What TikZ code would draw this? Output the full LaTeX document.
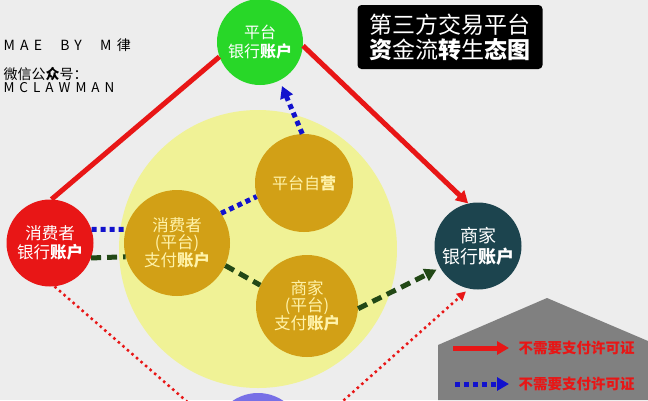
\documentclass[tikz,border=0pt]{standalone}
\usepackage{fontspec}
\setmainfont{Noto Sans CJK SC}
\newfontfamily\spacedfont[LetterSpace=37]{Noto Sans CJK SC}
\usetikzlibrary{arrows.meta}

\def\mypxunit{1pt}
\definecolor{mypaper}{RGB}{237,237,237}
\definecolor{mypool}{RGB}{240,242,150}
\definecolor{mygold}{RGB}{210,160,22}
\definecolor{mygreen}{RGB}{40,215,40}
\definecolor{myred}{RGB}{232,22,22}
\definecolor{myteal}{RGB}{28,68,78}
\definecolor{mypurple}{RGB}{120,112,230}
\definecolor{myblue}{RGB}{18,18,205}
\definecolor{mydarkgreen}{RGB}{34,72,22}
\definecolor{mygrey}{RGB}{128,128,128}
\definecolor{mypaletext}{RGB}{255,243,170}

\tikzset{
  acct/.style={circle, inner sep=0pt, align=center, text=white},
  solidflow/.style={myred, line width=5pt},
  dotflow/.style={myblue, line width=5pt, dash pattern=on 5pt off 4pt},
  dashflow/.style={mydarkgreen, line width=5pt, dash pattern=on 10pt off 6pt},
  thinflow/.style={myred, line width=2.5pt, dash pattern=on 2.5pt off 3.5pt},
  bigtip/.style={-{Triangle[length=12pt,width=13pt]}},
  smalltip/.style={-{Triangle[length=9pt,width=9pt]}}
}

\begin{document}
\begin{tikzpicture}[x=\mypxunit, y=-\mypxunit]
\useasboundingbox (0,0) rectangle (648,400);
\clip (0,0) rectangle (648,400);
\fill[mypaper] (0,0) rectangle (648,400);
\fill[mygrey] (438,345) -- (547,298) -- (648,341) -- (648,400) -- (438,400) -- cycle; % legend board

\node[circle, fill=mypool, minimum size=278pt, inner sep=0pt] (pool) at (258,249) {};

% bank accounts
\node[acct, fill=mygreen, minimum size=86pt, font=\fontsize{16}{19}\selectfont] (platformbank) at (260,42) {平台\\银行{\bfseries 账户}};
\node[acct, fill=myred, minimum size=87pt, font=\fontsize{16.5}{19}\selectfont] (consumerbank) at (50,243) {消费者\\银行{\bfseries 账户}};
\node[acct, fill=myteal, minimum size=87pt, font=\fontsize{18}{21}\selectfont] (merchantbank) at (478,246) {商家\\银行{\bfseries 账户}};
\node[circle, fill=mypurple, minimum size=90pt, inner sep=0pt] (clearing) at (258,438) {};

% accounts inside the platform
\node[acct, fill=mygold, text=mypaletext, minimum size=98pt, font=\fontsize{16}{19}\selectfont] (selfop) at (304,183) {平台自{\bfseries 营}};
\node[acct, fill=mygold, text=mypaletext, minimum size=106pt, font=\fontsize{16.5}{17}\selectfont] (consumerpay) at (177,243) {消费者\\(平台)\\支付{\bfseries 账户}};
\node[acct, fill=mygold, text=mypaletext, minimum size=102pt, font=\fontsize{16.5}{17}\selectfont] (merchantpay) at (307,306) {商家\\(平台)\\支付{\bfseries 账户}};

% title and notes
\node[fill=black, text=white, rounded corners=4pt, minimum width=185pt, minimum height=64pt, align=center, font=\fontsize{23}{25}\selectfont] (title) at (450,37) {第三方交易平台\\{\bfseries 资}金流{\bfseries 转}生{\bfseries 态图}};
\node[anchor=west, font=\spacedfont\fontsize{14}{16}\selectfont] (maker) at (0,45) {MAE\hspace{10pt} BY\hspace{10pt} M律};
\node[anchor=west, font=\fontsize{14}{16}\selectfont] (wechat) at (0,74) {微信公{\bfseries 众}号：};
\node[anchor=west, font=\spacedfont\fontsize{13.5}{15}\selectfont] (account) at (0,88) {MCLAWMAN};

% flows
\draw[solidflow] (consumerbank.88) -- (platformbank.200); % consumer bank to platform bank
\draw[solidflow, bigtip] (platformbank.-5) -- (merchantbank.103); % platform bank to merchant bank
\draw[dotflow, bigtip, shorten >=6pt] (selfop.92) -- (platformbank.-63); % self-run to platform bank
\draw[dotflow] (consumerbank.18) -- (consumerpay.165);
\draw[dotflow] (consumerpay.34) -- (selfop.196);
\draw[dashflow] (consumerbank.-20) -- (consumerpay.-165);
\draw[dashflow] (consumerpay.-25) -- (merchantpay.156);
\draw[dashflow, bigtip, shorten >=4pt] (merchantpay.-3) -- (merchantbank.210);
\draw[thinflow] (consumerbank.-84) -- (clearing.164);
\draw[thinflow, smalltip, shorten >=4pt] (clearing.2) -- (merchantbank.-102);

% legend
\coordinate (solidstart) at (453,348);
\coordinate (dotstart) at (455,384);
\node[anchor=west, text=myred, font=\fontsize{14.5}{16}\selectfont\bfseries] (legsolid) at (515,348) {不需要支付许可证};
\node[anchor=west, text=myred, font=\fontsize{14.5}{16}\selectfont\bfseries] (legdot) at (515,384) {不需要支付许可证};
\draw[solidflow, bigtip, shorten >=6pt] (solidstart) -- (legsolid.west);
\draw[dotflow, bigtip, shorten >=6pt] (dotstart) -- (legdot.west);
\end{tikzpicture}
\end{document}
